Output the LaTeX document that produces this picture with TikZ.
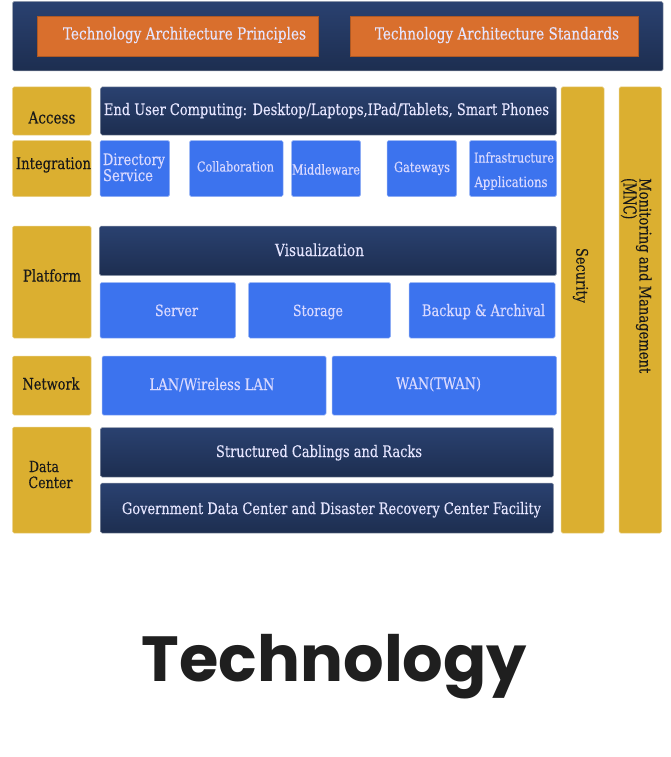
\documentclass[tikz,border=0pt]{standalone}
\usepackage{fontspec}
\usepackage{graphicx}
\setmainfont{DejaVu Serif Condensed}[FakeBold=0.25]
\newfontfamily\titlefont{Poppins}[BoldFont={* Bold}]
\definecolor{navytop}{HTML}{2A4170}
\definecolor{navybot}{HTML}{1D2E50}
\definecolor{orangebox}{HTML}{D96F2D}
\definecolor{goldbox}{HTML}{DBAF30}
\definecolor{bluebox}{HTML}{3C73EE}
\definecolor{titlecol}{HTML}{1F1F1F}
\tikzset{
 x=1pt,y=-1pt,
 bx/.style={rounded corners=1.5pt,inner sep=0pt,outer sep=0pt,line width=.5pt},
 navy/.style={bx,top color=navytop,bottom color=navybot,draw=navybot!45!white},
 orangeb/.style={bx,rounded corners=0pt,fill=orangebox,draw=orangebox!80!black},
 gold/.style={bx,fill=goldbox,draw=goldbox!60!white},
 blue/.style={bx,fill=bluebox,draw=bluebox!55!white},
 lightt/.style={text=white!90!blue,inner sep=0pt,anchor=base},
 bluet/.style={text=white!85!blue,inner sep=0pt,anchor=base},
 darkt/.style={text=black!90,inner sep=0pt,anchor=base},
}
% name, x0,y0,x1,y1, style
\newcommand{\bxx}[6]{\node[#6,minimum width={(#4-#2)*1pt},minimum height={(#5-#3)*1pt}] (#1) at ({(#2+#4)/2},{(#3+#5)/2}) {};}
% name, style, cx, baseline, width, text
\newcommand{\tx}[6]{\node[#2] (#1) at (#3,#4) {\scalebox{1}[1.1]{\resizebox{#5pt}{!}{#6}}};}
\begin{document}
\begin{tikzpicture}
\useasboundingbox (0,0) rectangle (670,757);
\bxx{head}{12.5}{1.5}{663}{71}{navy}
\bxx{op}{37.5}{16}{318.5}{56.5}{orangeb}
\bxx{os}{350.5}{16}{638}{56.5}{orangeb}
\tx{opt}{lightt}{184.5}{39.5}{243}{Technology Architecture Principles}
\tx{ost}{lightt}{497}{39.5}{244}{Technology Architecture Standards}
% left column
\bxx{access}{12.5}{87}{91}{135}{gold}
\bxx{integ}{12.5}{140.5}{91}{196.5}{gold}
\bxx{plat}{12.5}{226}{91}{338}{gold}
\bxx{net}{12.5}{356}{91}{415}{gold}
\bxx{dc}{12.5}{427}{91}{533}{gold}
\tx{accesst}{darkt}{52}{123.5}{47}{Access}
\tx{integt}{darkt}{53.5}{169}{75}{Integration}
\tx{platt}{darkt}{52}{281.5}{58}{Platform}
\tx{nett}{darkt}{51}{389.5}{57}{Network}
\tx{dct}{darkt}{44}{472}{30}{Data}
\tx{dct2}{darkt}{50.5}{488}{44}{Center}
% access/integration
\bxx{user}{100.5}{87}{556.5}{135}{navy}
\tx{usert}{lightt}{326.5}{115}{445}{End User Computing: Desktop/Laptops,IPad/Tablets, Smart Phones}
\bxx{dir}{100}{140.5}{169.5}{196.5}{blue}
\bxx{col}{189.5}{140.5}{283}{196.5}{blue}
\bxx{mid}{291.5}{140.5}{360.5}{196.5}{blue}
\bxx{gate}{387}{140.5}{456.5}{196.5}{blue}
\bxx{infra}{469.5}{140.5}{556.5}{196.5}{blue}
\tx{dirt}{bluet}{134}{165}{62}{Directory}
\tx{dirt2}{bluet}{128}{181}{50}{Service}
\tx{colt}{bluet}{235.5}{171.5}{77}{Collaboration}
\tx{midt}{bluet}{326}{174.5}{68}{Middleware}
\tx{gatet}{bluet}{422}{172}{56}{Gateways}
\tx{infrat}{bluet}{514}{162.5}{80}{Infrastructure}
\tx{infrat2}{bluet}{511}{187}{73}{Applications}
% platform
\bxx{vis}{99.5}{226}{556.5}{275.5}{navy}
\tx{vist}{lightt}{319.5}{256}{89}{Visualization}
\bxx{srv}{100}{282.5}{235.5}{338}{blue}
\bxx{sto}{248.5}{282.5}{390.5}{338}{blue}
\bxx{bak}{409}{282.5}{555}{338}{blue}
\tx{srvt}{bluet}{176.5}{316}{43}{Server}
\tx{stot}{bluet}{318}{316}{50}{Storage}
\tx{bakt}{bluet}{483.5}{316}{123}{Backup \& Archival}
% network
\bxx{lan}{102}{356}{326}{415}{blue}
\bxx{wan}{332}{356}{556.5}{415}{blue}
\tx{lant}{bluet}{212}{390}{125}{LAN/Wireless LAN}
\tx{want}{bluet}{438.5}{389}{85}{WAN(TWAN)}
% data center
\bxx{cab}{100.5}{427.5}{553.5}{477}{navy}
\bxx{gov}{100.5}{483}{553.5}{533}{navy}
\tx{cabt}{lightt}{319}{457}{206}{Structured Cablings and Racks}
\tx{govt}{lightt}{331.5}{514}{419}{Government Data Center and Disaster Recovery Center Facility}
% verticals
\bxx{sec}{561}{87}{604}{533}{gold}
\bxx{mon}{619}{87}{661.5}{533}{gold}
\node[text=black!90,inner sep=0pt,rotate=-90] (sect) at (580.5,275.5) {\scalebox{1}[1.1]{\resizebox{55pt}{!}{Security}}};
\node[text=black!90,inner sep=0pt,rotate=-90,anchor=base west] (mont) at (639.5,178) {\scalebox{1}[1.1]{\resizebox{195pt}{!}{Monitoring and Management}}};
\node[text=black!90,inner sep=0pt,rotate=-90,anchor=base west] (mont2) at (623.5,178) {\scalebox{1}[1.35]{\resizebox{41pt}{!}{(MNC)}}};
% title
\node[text=titlecol,inner sep=0pt,anchor=base] (title) at (334.5,681) {\resizebox{385pt}{!}{\titlefont\bfseries Technology}};
\end{tikzpicture}
\end{document}
